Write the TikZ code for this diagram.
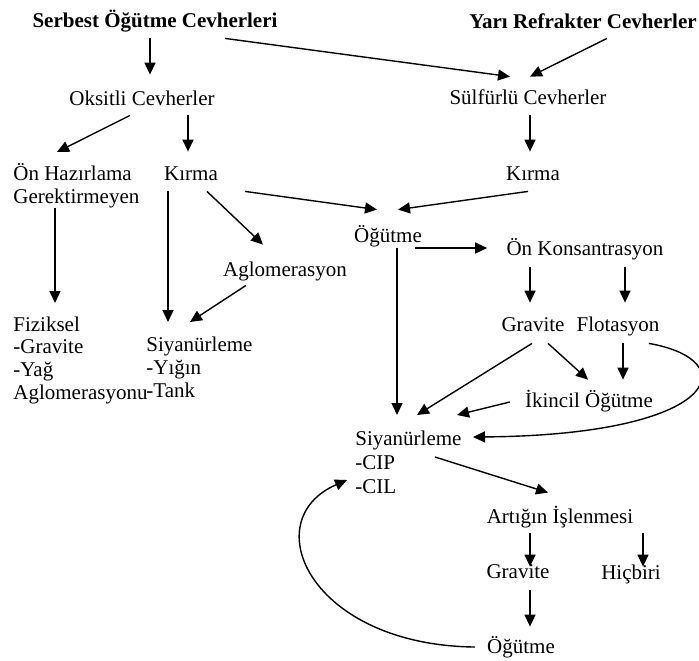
\documentclass[tikz,border=0pt]{standalone}
\usepackage{fontspec}
\setmainfont{Liberation Serif}
\usetikzlibrary{arrows.meta,calc}

\begin{document}
\begin{tikzpicture}[
  x=0.5pt, y=-0.5pt,
  every node/.style={font=\fontsize{10.5}{11.3}\selectfont, inner sep=0pt},
  item/.style={text height=9pt, text depth=2pt},
  head/.style={item, font=\fontsize{10.5}{11.3}\selectfont\bfseries},
  stack/.style={align=left, anchor=base west},
  arr/.style={-{Triangle[length=6pt,width=5.5pt]}, line width=0.7pt}
]
\useasboundingbox (0,0) rectangle (699,660);
\node[head] (serbest) at (155,20) {Serbest Öğütme Cevherleri};
\node[head] (yari) at (583,21) {Yarı Refrakter Cevherler};
\node[item] (oksitli) at (142,98) {Oksitli Cevherler};
\node[item] (sulfur) at (528,97) {Sülfürlü Cevherler};
\node[stack] (onhaz) at (13,203) {Ön Hazırlama\\Gerektirmeyen};
\node[item] (kirmaL) at (191,173) {Kırma};
\node[item] (kirmaR) at (533,173) {Kırma};
\node[item] (ogutme) at (388,235) {Öğütme};
\node[item] (aglo) at (285,269) {Aglomerasyon};
\node[item] (onkons) at (585,248) {Ön Konsantrasyon};
\node[stack] (fiziksel) at (13,399) {Fiziksel\\-Gravite\\-Yağ\\Aglomerasyonu};
\node[stack] (siyanL) at (146,397) {Siyanürleme\\-Yığın\\-Tank};
\node[item] (gravU) at (533,324) {Gravite};
\node[item] (flot) at (618,324) {Flotasyon};
\node[item] (ikincil) at (589,400) {İkincil Öğütme};
\node[stack, font=\fontsize{10.5}{12}\selectfont] (siyanM) at (355,493) {Siyanürleme\\-CIP\\-CIL};
\node[item] (artik) at (560,516) {Artığın İşlenmesi};
\node[item] (gravL) at (518,571) {Gravite};
\node[item] (hicbiri) at (631,572) {Hiçbiri};
\node[item] (ogutmeL) at (521,646) {Öğütme};

\draw[arr] ($(serbest.south)+(-5,7)$) -- ($(oksitli.north)+(8,-12)$);
\draw[arr] ($(serbest.south)+(70,7)$) -- ($(sulfur.north)+(-18,-9)$);
\draw[arr] ($(yari.south)+(24,6)$) -- ($(sulfur.north)+(2,-9)$);
\draw[arr] ($(oksitli.south)+(-12,6)$) -- ($(onhaz.base west)+(44,-51)$);
\draw[arr] ($(oksitli.south)+(46,6)$) -- ($(kirmaL.north)+(-3,-10)$);
\draw[arr] ($(sulfur.south)+(2,7)$) -- ($(kirmaR.north)+(-3,-10)$);
\draw[arr] ($(kirmaL.south)+(54,7)$) -- ($(ogutme.north)+(-11,-14)$);
\draw[arr] ($(kirmaR.south)+(-5,7)$) -- ($(ogutme.north)+(10,-14)$);
\draw[arr] ($(kirmaL.south)+(16,7)$) -- ($(aglo.north)+(-22,-13)$);
\draw[arr] ($(kirmaL.south)+(-23,7)$) -- ($(siyanL.base west)+(22,-75)$);
\draw[arr] ($(onhaz.base west)+(42,5)$) -- ($(fiziksel.base west)+(42,-96)$);
\draw[arr] ($(aglo.south)+(-39,5)$) -- ($(siyanL.base west)+(44,-75)$);
\draw[arr] ($(ogutme.east)+(-7,13)$) -- ($(onkons.west)+(-19,0)$);
\draw[arr] ($(ogutme.south)+(9,2)$) -- ($(siyanM.base west)+(42,-78)$);
\draw[arr] ($(onkons.south)+(-55,8)$) -- ($(gravU.north)+(-3,-10)$);
\draw[arr] ($(onkons.south)+(40,8)$) -- ($(flot.north)+(7,-10)$);
\draw[arr] ($(gravU.south)+(-1,8)$) -- ($(siyanM.base west)+(62,-78)$);
\draw[arr] ($(gravU.south)+(15,8)$) -- ($(ikincil.north)+(-1,-9)$);
\draw[arr] ($(flot.south)+(5,8)$) -- ($(ikincil.north)+(34,-9)$);
\draw[arr] ($(ikincil.west)+(-15,2)$) -- ($(siyanM.base west)+(102,-78)$);
\draw[arr] ($(flot.south east)+(-11,8)$) .. controls +(97,17) and +(247,-2) .. ($(siyanM.base west)+(118,-56)$);
\draw[arr] ($(siyanM.base west)+(80,-36)$) -- ($(artik.north)+(-12,-12)$);
\draw[arr] ($(artik.south)+(-30,6)$) -- ($(gravL.north)+(12,7)$);
\draw[arr] ($(artik.south)+(83,6)$) -- ($(hicbiri.north)+(12,6)$);
\draw[arr] ($(gravL.south)+(12,8)$) -- ($(ogutmeL.north)+(9,-8)$);
\draw[arr] ($(ogutmeL.west)+(-12,1)$) .. controls +(-165,-2) and +(-92,40) .. ($(siyanM.base west)+(-8,-13)$);
\end{tikzpicture}
\end{document}
